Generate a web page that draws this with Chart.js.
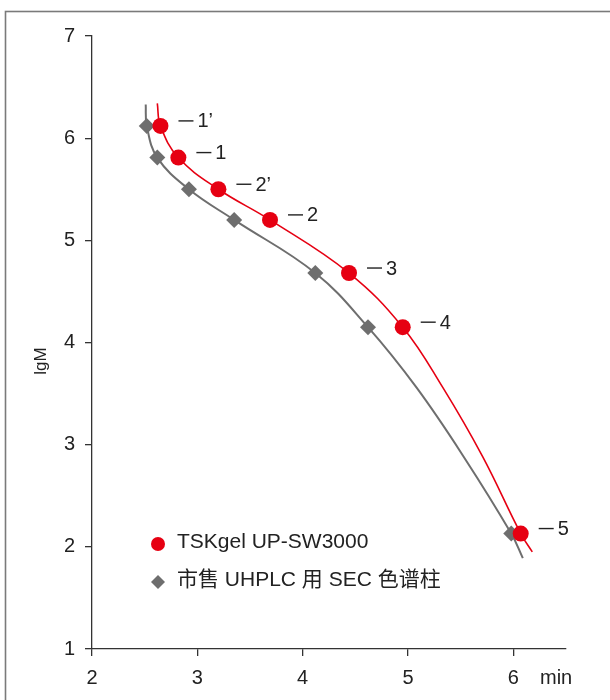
<!DOCTYPE html>
<html>
<head>
<meta charset="utf-8">
<script src="https://cdn.jsdelivr.net/npm/chart.js@4/dist/chart.umd.min.js"></script>
<style>
  html, body { margin: 0; padding: 0; background: #fff; }
  canvas { display: block; }
</style>
</head>
<body>
<canvas id="cal" width="610" height="700"></canvas>
<script>
// Molecular-weight calibration curves (lgM vs. elution time)
const seriesNames = ['TSKgel UP-SW3000', '市售 UHPLC 用 SEC 色谱柱'];
const peakLabels = ['1’', '1', '2’', '2', '3', '4', '5'];
const standardLgM = [6.12, 5.81, 5.50, 5.20, 4.68, 4.15, 2.13];
const upswTime = [2.65, 2.82, 3.20, 3.69, 4.44, 4.95, 6.07];
const uhplcTime = [2.52, 2.62, 2.92, 3.35, 4.12, 4.62, 5.98];
// fitted-curve points: ends beyond the first/last standard, and the
// stretch between standards 4 and 5
const upswCurveStart = { x: 2.62, y: 6.34 };
const upswCurveMid = [{ x: 5.33, y: 3.56 }, { x: 5.71, y: 2.88 }];
const upswCurveEnd = { x: 6.18, y: 1.95 };
const uhplcCurveStart = { x: 2.51, y: 6.33 };
const uhplcCurveMid = [{ x: 5.08, y: 3.56 }, { x: 5.53, y: 2.88 }];
const uhplcCurveEnd = { x: 6.09, y: 1.89 };
const xTicks = [2, 3, 4, 5, 6];
const yTicks = [1, 2, 3, 4, 5, 6, 7];

const RED = '#e60012';
const GRAY = '#6e6e6e';
const INK = '#222222';
const FONT = '"Liberation Sans", Arial, sans-serif';

const toPoints = (xs) => xs.map((x, i) => ({ x, y: standardLgM[i] }));
const upswPts = toPoints(upswTime);
const uhplcPts = toPoints(uhplcTime);
const upswCurve = [upswCurveStart, ...upswPts.slice(0, 6), ...upswCurveMid, upswPts[6], upswCurveEnd];
const uhplcCurve = [uhplcCurveStart, ...uhplcPts.slice(0, 6), ...uhplcCurveMid, uhplcPts[6], uhplcCurveEnd];

// white page with a thin frame
const framePlugin = {
  id: 'frame',
  beforeDraw(chart) {
    const c = chart.ctx;
    c.save();
    c.fillStyle = '#fff';
    c.fillRect(0, 0, chart.width, chart.height);
    c.strokeStyle = '#7a7a7a';
    c.lineWidth = 1.6;
    c.strokeRect(5.5, 11.5, chart.width + 20, chart.height + 20);
    c.restore();
  }
};

// peak numbers with leader dashes, axis titles and the in-plot legend
const annotatePlugin = {
  id: 'annotate',
  afterDatasetsDraw(chart) {
    const c = chart.ctx;
    c.save();
    const meta = chart.getDatasetMeta(0);
    c.font = '20px ' + FONT;
    c.fillStyle = INK;
    c.strokeStyle = INK;
    c.lineWidth = 1.4;
    c.textAlign = 'left';
    c.textBaseline = 'middle';
    meta.data.forEach((el, i) => {
      const x = el.x + 18, y = el.y - 5;
      c.beginPath();
      c.moveTo(x, y);
      c.lineTo(x + 15, y);
      c.stroke();
      c.fillText(peakLabels[i], x + 19, y + 1);
    });

    // x-axis unit
    c.fillText('min', 540, 678);

    // y-axis title
    c.save();
    c.translate(41, 361);
    c.rotate(-Math.PI / 2);
    c.textAlign = 'center';
    c.font = '17px ' + FONT;
    c.fillText('lgM', 0, 0);
    c.restore();

    // legend
    const lx = 158;
    c.fillStyle = RED;
    c.beginPath();
    c.arc(lx, 544, 7, 0, Math.PI * 2);
    c.fill();
    c.fillStyle = GRAY;
    c.beginPath();
    c.moveTo(lx, 575); c.lineTo(lx + 7, 582); c.lineTo(lx, 589); c.lineTo(lx - 7, 582);
    c.closePath();
    c.fill();
    c.fillStyle = INK;
    c.font = '21px ' + FONT;
    c.fillText(seriesNames[0], 177, 542);
    c.font = '21px ' + FONT + ', "Noto Sans CJK SC"';
    c.fillText(seriesNames[1], 177, 580);
    c.restore();
  }
};

new Chart(document.getElementById('cal'), {
  type: 'scatter',
  data: {
    datasets: [
      {
        label: seriesNames[0], data: upswPts, showLine: false,
        pointStyle: 'circle', pointRadius: 8, pointBackgroundColor: RED,
        pointBorderWidth: 0, pointBorderColor: RED
      },
      {
        label: seriesNames[1], data: uhplcPts, showLine: false,
        pointStyle: 'rectRot', pointRadius: 8, pointBackgroundColor: GRAY,
        pointBorderWidth: 0, pointBorderColor: GRAY
      },
      {
        label: seriesNames[0] + ' curve', data: upswCurve, showLine: true,
        borderColor: RED, borderWidth: 1.6, pointRadius: 0, tension: 0.4
      },
      {
        label: seriesNames[1] + ' curve', data: uhplcCurve, showLine: true,
        borderColor: GRAY, borderWidth: 2, pointRadius: 0, tension: 0.4
      }
    ]
  },
  options: {
    responsive: false,
    animation: false,
    devicePixelRatio: 1,
    layout: { padding: { top: 36, right: 44, bottom: 0, left: 0 } },
    plugins: { legend: { display: false }, tooltip: { enabled: false } },
    scales: {
      x: {
        type: 'linear', min: 2, max: 6.5,
        afterBuildTicks: (s) => { s.ticks = xTicks.map(v => ({ value: v })); },
        afterFit: (s) => { s.height = 51; },
        grid: { drawOnChartArea: false, drawTicks: true, tickLength: 7, color: '#333', lineWidth: 1.3 },
        border: { display: true, color: '#333', width: 1.3 },
        ticks: { color: INK, font: { family: FONT, size: 20 }, padding: 10, maxRotation: 0 }
      },
      y: {
        type: 'linear', min: 1, max: 7,
        afterBuildTicks: (s) => { s.ticks = yTicks.map(v => ({ value: v })); },
        afterFit: (s) => { s.width = 92; },
        grid: { drawOnChartArea: false, drawTicks: true, tickLength: 7, color: '#333', lineWidth: 1.3 },
        border: { display: true, color: '#333', width: 1.3 },
        ticks: { color: INK, font: { family: FONT, size: 20 }, padding: 10 }
      }
    }
  },
  plugins: [framePlugin, annotatePlugin]
});
</script>
</body>
</html>
